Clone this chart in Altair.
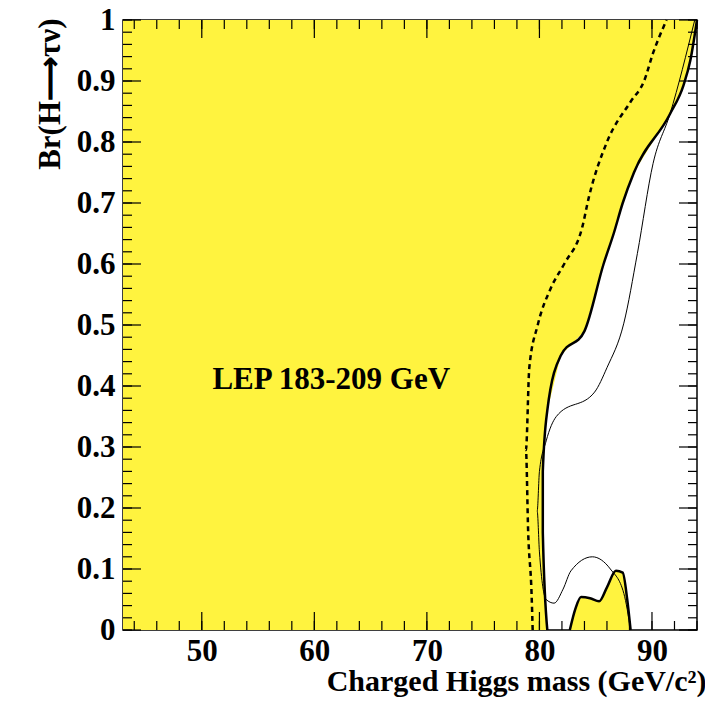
import altair as alt
import pandas as pd

# excluded region boundary (observed, thick)
obs_br = [0.0, 0.16, 0.26, 0.36, 0.45, 0.49, 0.60, 0.65, 0.70, 0.75, 0.846, 0.893, 0.933, 1.0]
obs_m = [80.7, 80.3, 80.3, 80.7, 81.9, 84.0, 85.7, 86.6, 87.4, 88.4, 91.6, 92.8, 93.4, 94.0]

# small excluded island at low Br
isl_m = [82.7, 83.2, 83.7, 84.5, 85.3, 86.0, 86.8, 87.4, 87.8, 88.1]
isl_br = [0.0, 0.035, 0.054, 0.052, 0.047, 0.07, 0.097, 0.094, 0.05, 0.0]

# expected limit (dashed)
exp_br = [0.0, 0.06, 0.16, 0.295, 0.43, 0.50, 0.56, 0.60, 0.66, 0.71, 0.80, 0.866, 0.90, 0.946, 1.0]
exp_m = [79.4, 79.3, 79.0, 78.8, 79.1, 79.85, 81.0, 82.2, 83.8, 84.4, 86.0, 88.1, 89.3, 90.1, 91.3]

# thin line
thin_m = [93.8, 91.6, 90.1, 88.7, 87.5, 86.0, 84.9, 81.5, 80.6, 80.0, 79.8, 80.0, 80.6,
          81.3, 82.1, 82.8, 84.7, 86.3, 87.5, 88.1]
thin_br = [1.0, 0.846, 0.765, 0.617, 0.503, 0.43, 0.39, 0.35, 0.31, 0.26, 0.195, 0.128, 0.05,
           0.044, 0.067, 0.097, 0.12, 0.10, 0.06, 0.0]

x_major = [50, 60, 70, 80, 90]
x_minor = [v for v in range(44, 95, 2)]
y_major = [round(i * 0.1, 1) for i in range(11)]
y_minor = [round(i * 0.02, 2) for i in range(51)]

W, H = 574, 610
font = "Liberation Serif"
yellow = "#fff33f"
xs = alt.Scale(domain=[43, 94], nice=False, zero=False)
ys = alt.Scale(domain=[0, 1], nice=False)

obs = pd.DataFrame({"m": obs_m, "br": obs_br, "x0": 43.0})
region = alt.Chart(obs).mark_area(orient="horizontal", color=yellow).encode(
    x=alt.X("m:Q", scale=xs, title="Charged Higgs mass (GeV/c²)",
            axis=alt.Axis(values=x_major, ticks=False, domain=False, grid=False,
                          labelFont=font, labelFontSize=31, labelFontWeight="bold",
                          labelColor="black", labelPadding=6, titleFont=font,
                          titleFontSize=30, titleFontWeight="bold", titleColor="black",
                          titleAnchor="end", titleX=W + 9, titleY=66, titleBaseline="bottom")),
    x2="x0:Q",
    y=alt.Y("br:Q", scale=ys, title="Br(H⟶τν)",
            axis=alt.Axis(values=y_major, ticks=False, domain=False, grid=False, format=".1~f",
                          labelFont=font, labelFontSize=31, labelFontWeight="bold",
                          labelColor="black", labelPadding=8, titleFont=font,
                          titleFontSize=31, titleFontWeight="bold", titleColor="black",
                          titleAnchor="end", titleY=-2, titlePadding=10)),
)
obs_line = alt.Chart(obs).mark_line(color="black", strokeWidth=2.5, interpolate="monotone").encode(
    x=alt.X("m:Q", scale=xs), y=alt.Y("br:Q", scale=ys), order="br:Q")

isl = pd.DataFrame({"m": isl_m, "br": isl_br})
island = alt.Chart(isl).mark_area(color=yellow, interpolate="monotone").encode(
    x=alt.X("m:Q", scale=xs), y=alt.Y("br:Q", scale=ys))
isl_line = alt.Chart(isl).mark_line(color="black", strokeWidth=2.5, interpolate="monotone").encode(
    x=alt.X("m:Q", scale=xs), y=alt.Y("br:Q", scale=ys))

exp = pd.DataFrame({"m": exp_m, "br": exp_br})
exp_line = alt.Chart(exp).mark_line(color="black", strokeWidth=2.5, strokeDash=[5, 4],
                                    interpolate="monotone").encode(
    x=alt.X("m:Q", scale=xs), y=alt.Y("br:Q", scale=ys), order="br:Q")

thin = pd.DataFrame({"m": thin_m, "br": thin_br, "i": list(range(len(thin_m)))})
thin_line = alt.Chart(thin).mark_line(color="black", strokeWidth=1, interpolate="monotone").encode(
    x=alt.X("m:Q", scale=xs), y=alt.Y("br:Q", scale=ys), order="i:Q")

label = alt.Chart(pd.DataFrame({"m": [61.5], "br": [0.41], "t": ["LEP 183-209 GeV"]})).mark_text(
    font=font, fontSize=31, fontWeight="bold", color="black").encode(
    x=alt.X("m:Q", scale=xs), y=alt.Y("br:Q", scale=ys), text="t:N")


def xticks(vals, size):
    d = pd.DataFrame({"v": vals})
    b = alt.Chart(d).mark_rule(color="black", strokeWidth=1.2).encode(
        x=alt.X("v:Q", scale=xs), y=alt.value(H), y2=alt.value(H - size))
    t = alt.Chart(d).mark_rule(color="black", strokeWidth=1.2).encode(
        x=alt.X("v:Q", scale=xs), y=alt.value(0), y2=alt.value(size))
    return b + t


def yticks(vals, size):
    d = pd.DataFrame({"v": vals})
    l = alt.Chart(d).mark_rule(color="black", strokeWidth=1.2).encode(
        y=alt.Y("v:Q", scale=ys), x=alt.value(0), x2=alt.value(size))
    r = alt.Chart(d).mark_rule(color="black", strokeWidth=1.2).encode(
        y=alt.Y("v:Q", scale=ys), x=alt.value(W), x2=alt.value(W - size))
    return l + r


chart = alt.layer(
    region, island, obs_line, isl_line, exp_line, thin_line, label,
    xticks(x_major, 18), xticks(x_minor, 9), yticks(y_major, 18), yticks(y_minor, 9),
).properties(
    width=W, height=H, autosize="none",
    padding={"left": 115, "top": 12, "right": 8, "bottom": 80},
).configure_view(stroke="black", strokeWidth=1.5)

chart.save("out.html", embed_options={"renderer": "svg", "actions": False})
